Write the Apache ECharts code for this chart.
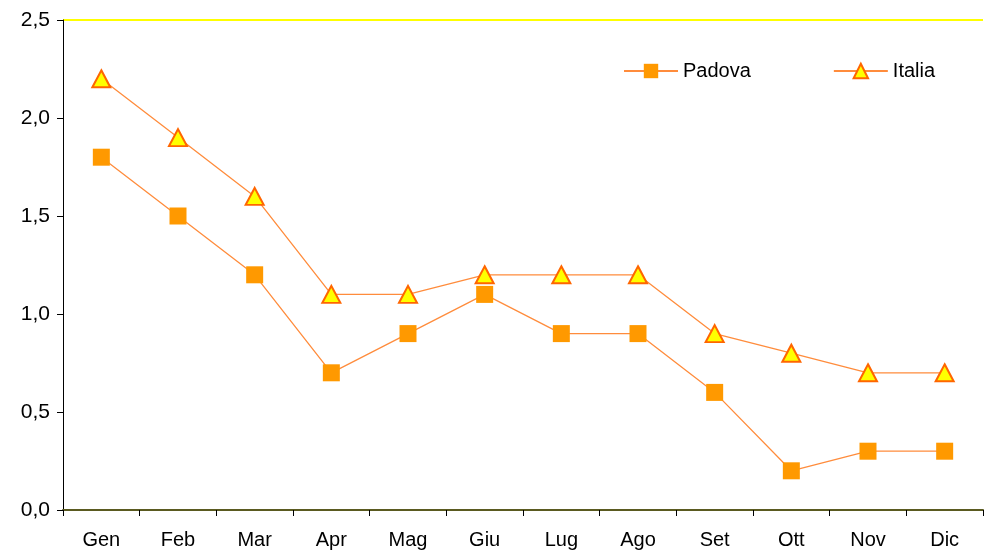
<!DOCTYPE html>
<html>
<head>
<meta charset="utf-8">
<script src="https://cdn.jsdelivr.net/npm/echarts@6/dist/echarts.min.js"></script>
<style>
  html, body { margin: 0; padding: 0; background: #fff; }
  #chart { width: 984px; height: 556px; }
</style>
</head>
<body>
<div id="chart"></div>
<script>
const months = ['Gen', 'Feb', 'Mar', 'Apr', 'Mag', 'Giu', 'Lug', 'Ago', 'Set', 'Ott', 'Nov', 'Dic']
const padova = [1.8, 1.5, 1.2, 0.7, 0.9, 1.1, 0.9, 0.9, 0.6, 0.2, 0.3, 0.3]
const italia = [2.2, 1.9, 1.6, 1.1, 1.1, 1.2, 1.2, 1.2, 0.9, 0.8, 0.7, 0.7]

const font = 'Liberation Sans, Arial, sans-serif'
const chart = echarts.init(document.getElementById('chart'))

chart.setOption({
  animation: false,
  grid: { left: 63, right: 1, top: 20, bottom: 46 },
  legend: {
    top: 56,
    left: 618,
    itemGap: 82,
    itemWidth: 54,
    itemHeight: 18,
    textStyle: { fontFamily: font, fontSize: 20, color: '#000' },
    data: ['Padova', 'Italia']
  },
  xAxis: {
    type: 'category',
    data: months,
    boundaryGap: true,
    axisLine: { lineStyle: { color: '#5a5a20', width: 2 } },
    axisTick: { show: true, length: 6, lineStyle: { color: '#000' } },
    axisLabel: { fontFamily: font, fontSize: 20, color: '#000', margin: 20 }
  },
  yAxis: {
    type: 'value',
    min: 0,
    max: 2.5,
    interval: 0.5,
    axisLine: { show: true, lineStyle: { color: '#000', width: 1 } },
    axisTick: { show: true, length: 6, lineStyle: { color: '#000' } },
    axisLabel: {
      fontFamily: font, fontSize: 21, color: '#000', margin: 13,
      formatter: v => v.toFixed(1).replace('.', ',')
    },
    splitLine: {
      show: true,
      lineStyle: { color: ['transparent', 'transparent', 'transparent', 'transparent', 'transparent', '#ffff00'], width: 2 }
    }
  },
  series: [
    {
      name: 'Padova',
      type: 'line',
      data: padova,
      symbol: 'rect',
      symbolSize: 17,
      lineStyle: { color: '#ff8c3c', width: 1.3 },
      itemStyle: { color: '#ff9900', borderColor: '#ff9900', borderWidth: 0 }
    },
    {
      name: 'Italia',
      type: 'line',
      data: italia,
      symbol: 'triangle',
      symbolSize: [18, 17],
      lineStyle: { color: '#ff8c3c', width: 1.3 },
      itemStyle: { color: '#ffff00', borderColor: '#ff6600', borderWidth: 2 }
    }
  ]
})
</script>
</body>
</html>
